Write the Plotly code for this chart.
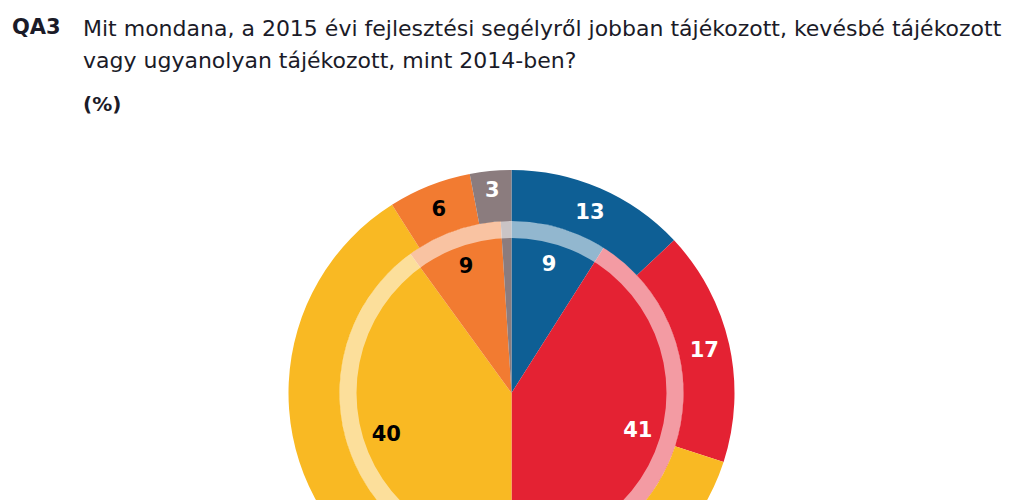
import plotly.graph_objects as go

# Data
categories = ["Jobban tájékozott", "Kevésbé tájékozott", "Ugyanolyan tájékozott", "Nem tudja", "Egyéb"]
outer_values = [13, 17, 61, 6, 3]
inner_values = [9, 41, 40, 9, 1]
colors = ["#0e5f95", "#e42233", "#f9b923", "#f27b31", "#8b7c7e"]
label_colors = ["white", "white", "black", "black", "white"]

OFF = 8  # page body margin
W, H = 1024, 700
cx, cy = 511.5 - OFF, 393.0 - OFF
R_out, R_in, R_ring = 223.0, 172.0, 155.0

def dom(r):
    return dict(x=[(cx - r) / W, (cx + r) / W], y=[(H - (cy + r)) / H, (H - (cy - r)) / H])

fig = go.Figure()

# inner pie (colours only)
fig.add_trace(go.Pie(values=inner_values, labels=categories, marker=dict(colors=colors),
                     sort=False, direction="clockwise", rotation=0, textinfo="none",
                     domain=dom(R_in), showlegend=False, hoverinfo="skip"))
# translucent ring
fig.add_trace(go.Pie(values=[1], labels=["ring"], marker=dict(colors=["rgba(255,255,255,0.55)"]),
                     hole=R_ring / R_in, textinfo="none", sort=False,
                     domain=dom(R_in), showlegend=False, hoverinfo="skip"))
# outer ring
fig.add_trace(go.Pie(values=outer_values, labels=categories, marker=dict(colors=colors),
                     hole=R_in / R_out, sort=False, direction="clockwise", rotation=0,
                     textinfo="value", textposition="inside", insidetextorientation="horizontal",
                     textfont=dict(family="DejaVu Sans", size=21, color=label_colors, weight="bold"),
                     domain=dom(R_out), showlegend=False, hoverinfo="skip"))
# inner labels (transparent donut positioned to place labels)
shown = [str(v) if v >= 5 else "" for v in inner_values]
fig.add_trace(go.Pie(values=inner_values, labels=categories,
                     marker=dict(colors=["rgba(0,0,0,0)"] * 5),
                     hole=0.53, sort=False, direction="clockwise", rotation=0,
                     text=shown, textinfo="text", textposition="inside",
                     insidetextorientation="horizontal",
                     textfont=dict(family="DejaVu Sans", size=21, color=label_colors, weight="bold"),
                     domain=dom(R_in), showlegend=False, hoverinfo="skip"))

def py(y):
    return (H - (y - OFF)) / H

def px(x):
    return (x - OFF) / W

txt_color = "#1b1b28"
FONT = "DejaVu Sans"
fig.add_annotation(x=px(10), y=py(27), xref="paper", yref="paper", xanchor="left", yanchor="middle",
                   text="<b>QA3</b>", showarrow=False,
                   font=dict(family=FONT, size=21, color=txt_color))
fig.add_annotation(x=px(81), y=py(28), xref="paper", yref="paper", xanchor="left", yanchor="middle",
                   text="Mit mondana, a 2015 évi fejlesztési segélyről jobban tájékozott, kevésbé tájékozott",
                   showarrow=False, font=dict(family=FONT, size=22, color=txt_color))
fig.add_annotation(x=px(81), y=py(60), xref="paper", yref="paper", xanchor="left", yanchor="middle",
                   text="vagy ugyanolyan tájékozott, mint 2014-ben?",
                   showarrow=False, font=dict(family=FONT, size=22, color=txt_color))
fig.add_annotation(x=px(81), y=py(104), xref="paper", yref="paper", xanchor="left", yanchor="middle",
                   text="<b>(%)</b>", showarrow=False,
                   font=dict(family=FONT, size=20, color=txt_color))

fig.update_layout(width=W, height=H, margin=dict(l=0, r=0, t=0, b=0),
                  paper_bgcolor="white", plot_bgcolor="white")

fig.write_html("out.html")
